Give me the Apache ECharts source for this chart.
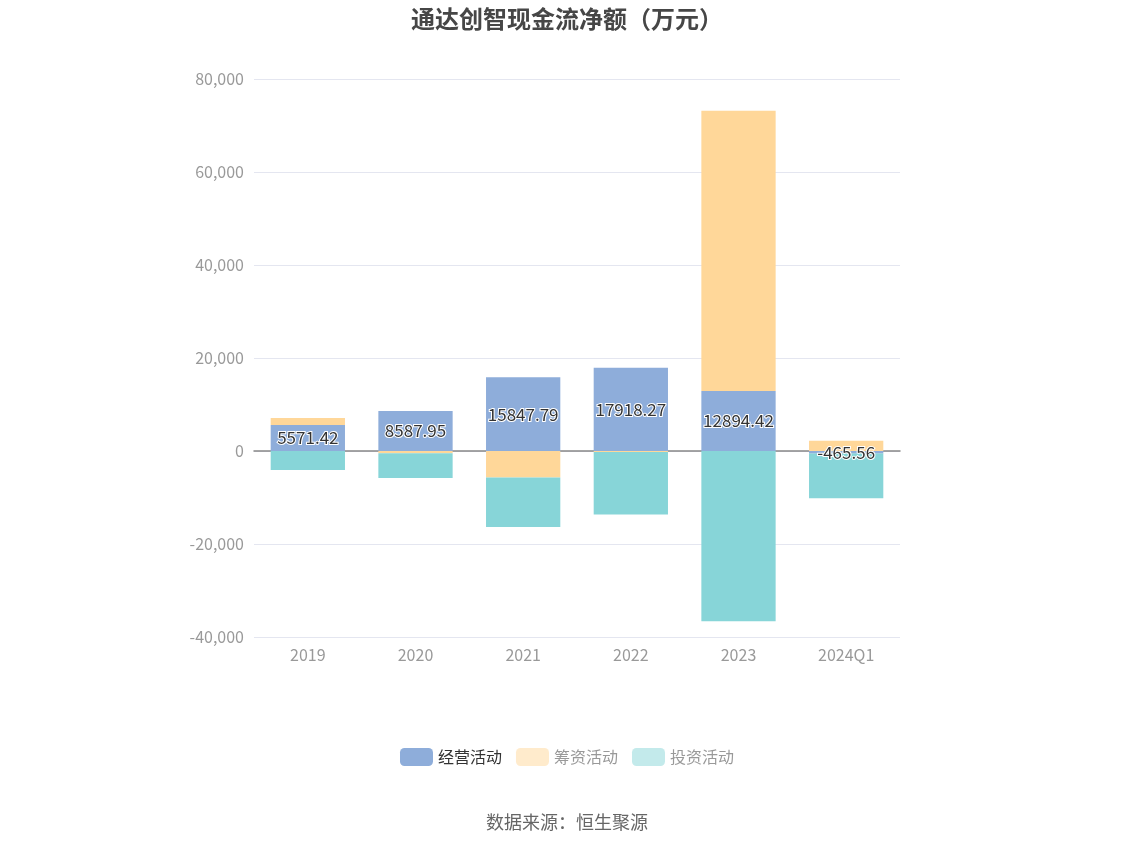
<!DOCTYPE html>
<html>
<head>
<meta charset="utf-8">
<script src="https://cdn.jsdelivr.net/npm/echarts@6/dist/echarts.min.js"></script>
<style>html,body{margin:0;padding:0;background:#fff;}#c{width:1134px;height:849px;}</style>
</head>
<body>
<div id="c"></div>
<script>
const categories = ['2019', '2020', '2021', '2022', '2023', '2024Q1'];
const operating = [5571.42, 8587.95, 15847.79, 17918.27, 12894.42, -465.56];
const financing = [1500, -500, -5720, -200, 60290, 2215];
const investing = [-4090, -5300, -10620, -13480, -36620, -9700];
const yTicks = [-40000, -20000, 0, 20000, 40000, 60000, 80000];

const chart = echarts.init(document.getElementById('c'));
const FONT = '"Noto Sans CJK SC", "Noto Sans", sans-serif';
chart.setOption({
  backgroundColor: '#fff',
  textStyle: { fontFamily: FONT },
  title: {
    text: '通达创智现金流净额（万元）',
    left: 'center', top: 2,
    textStyle: { fontSize: 24, fontWeight: 'bold', color: '#464646', fontFamily: FONT }
  },
  legend: {
    bottom: 78, left: 'center',
    itemWidth: 33, itemHeight: 18, itemGap: 14,
    icon: 'roundRect',
    textStyle: { fontSize: 16, color: '#333', fontFamily: FONT },
    data: [
      { name: '经营活动' },
      { name: '筹资活动', itemStyle: { opacity: 0.5 }, textStyle: { color: '#999' } },
      { name: '投资活动', itemStyle: { opacity: 0.5 }, textStyle: { color: '#999' } }
    ]
  },
  graphic: [{
    type: 'text', left: 'center', top: 813,
    style: { text: '数据来源：恒生聚源', fill: '#666', font: '18px ' + FONT }
  }],
  grid: { left: 254, right: 234, top: 79, bottom: 212, containLabel: false },
  xAxis: {
    type: 'category', data: categories,
    axisLine: { onZero: true, lineStyle: { color: '#888', width: 1.5 } },
    axisTick: { show: false },
    axisLabel: { color: '#999', fontSize: 16, margin: 10, fontFamily: FONT },
    position: 'bottom'
  },
  yAxis: {
    type: 'value', min: yTicks[0], max: yTicks[yTicks.length - 1], interval: 20000,
    axisLine: { show: false }, axisTick: { show: false },
    splitLine: { lineStyle: { color: '#e4e6f0' } },
    axisLabel: { color: '#999', fontSize: 16, margin: 10, fontFamily: FONT,
      formatter: v => v.toLocaleString('en-US') }
  },
  series: [
    {
      name: '经营活动', type: 'bar', stack: 'total', data: operating, barWidth: '69%',
      itemStyle: { color: '#8EADDA' },
      label: { show: true, position: 'inside', fontSize: 17, color: '#333',
        textBorderColor: '#fff', textBorderWidth: 2, fontFamily: FONT,
        formatter: p => p.value.toFixed(2) },
      z: 3
    },
    {
      name: '筹资活动', type: 'bar', stack: 'total', data: financing, barWidth: '69%',
      itemStyle: { color: '#FFD799' }
    },
    {
      name: '投资活动', type: 'bar', stack: 'total', data: investing, barWidth: '69%',
      itemStyle: { color: '#87D5D8' }
    }
  ]
});
</script>
</body>
</html>
